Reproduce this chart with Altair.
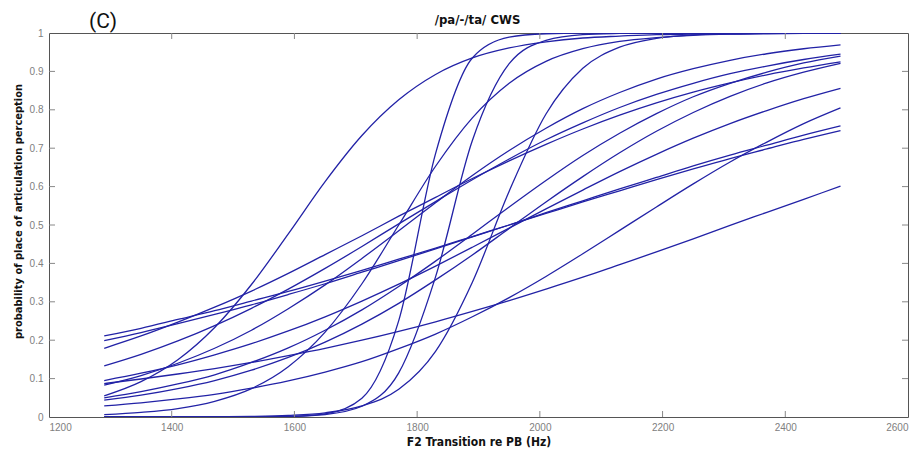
import altair as alt
import pandas as pd

# F2 transition frequencies (Hz) at which each curve is sampled
F2 = [1290, 1350, 1410, 1470, 1530, 1590, 1650, 1710, 1770, 1830, 1890,
      1950, 2010, 2070, 2130, 2190, 2250, 2310, 2370, 2430, 2490]

# probability of place of articulation perception, one list per listener curve
c01 = [0.055, 0.092, 0.149, 0.233, 0.345, 0.477, 0.613, 0.733, 0.826, 0.892, 0.935, 0.961, 0.977, 0.987, 0.992, 0.996, 0.997, 0.998, 0.999, 0.999, 1.0]
c02 = [0.0, 0.0, 0.0, 0.0, 0.0002, 0.0012, 0.008, 0.049, 0.251, 0.686, 0.935, 0.989, 0.998, 1.0, 1.0, 1.0, 1.0, 1.0, 1.0, 1.0, 1.0]
c03 = [0.0, 0.0, 0.0, 0.0, 0.0003, 0.0013, 0.0065, 0.028, 0.115, 0.365, 0.720, 0.920, 0.981, 0.996, 0.999, 1.0, 1.0, 1.0, 1.0, 1.0, 1.0]
c04 = [0.0001, 0.0001, 0.0002, 0.0006, 0.0016, 0.0043, 0.011, 0.029, 0.072, 0.171, 0.351, 0.588, 0.789, 0.908, 0.963, 0.986, 0.995, 0.998, 0.999, 1.0, 1.0]
c05 = [0.006, 0.012, 0.022, 0.041, 0.074, 0.131, 0.221, 0.347, 0.5, 0.653, 0.779, 0.869, 0.926, 0.959, 0.978, 0.988, 0.994, 0.997, 0.998, 0.999, 1.0]
c06 = [0.083, 0.108, 0.140, 0.179, 0.226, 0.282, 0.344, 0.413, 0.485, 0.558, 0.629, 0.694, 0.752, 0.803, 0.845, 0.880, 0.907, 0.929, 0.946, 0.959, 0.969]
c07 = [0.087, 0.099, 0.112, 0.126, 0.142, 0.160, 0.179, 0.200, 0.223, 0.248, 0.275, 0.303, 0.333, 0.364, 0.397, 0.430, 0.464, 0.499, 0.533, 0.567, 0.601]
c08 = [0.095, 0.114, 0.136, 0.162, 0.191, 0.224, 0.261, 0.302, 0.346, 0.393, 0.442, 0.492, 0.542, 0.591, 0.639, 0.684, 0.726, 0.764, 0.798, 0.829, 0.856]
c09 = [0.029, 0.037, 0.047, 0.059, 0.075, 0.094, 0.117, 0.144, 0.178, 0.216, 0.261, 0.311, 0.366, 0.425, 0.486, 0.547, 0.607, 0.664, 0.716, 0.764, 0.805]
c10 = [0.211, 0.231, 0.254, 0.277, 0.302, 0.327, 0.354, 0.382, 0.411, 0.440, 0.470, 0.500, 0.530, 0.560, 0.589, 0.618, 0.646, 0.673, 0.698, 0.723, 0.746]
c11 = [0.199, 0.220, 0.243, 0.267, 0.292, 0.319, 0.347, 0.377, 0.407, 0.438, 0.469, 0.500, 0.532, 0.563, 0.594, 0.624, 0.654, 0.682, 0.708, 0.734, 0.758]
c12 = [0.179, 0.211, 0.247, 0.286, 0.328, 0.374, 0.423, 0.472, 0.523, 0.572, 0.621, 0.667, 0.710, 0.750, 0.786, 0.818, 0.846, 0.870, 0.891, 0.909, 0.925]
c13 = [0.133, 0.163, 0.198, 0.238, 0.283, 0.333, 0.387, 0.444, 0.503, 0.561, 0.618, 0.672, 0.722, 0.766, 0.806, 0.840, 0.869, 0.894, 0.914, 0.931, 0.945]
c14 = [0.050, 0.066, 0.086, 0.110, 0.142, 0.180, 0.226, 0.279, 0.340, 0.406, 0.476, 0.547, 0.616, 0.681, 0.739, 0.790, 0.834, 0.869, 0.898, 0.922, 0.940]
c15 = [0.044, 0.057, 0.074, 0.095, 0.122, 0.155, 0.195, 0.242, 0.296, 0.357, 0.422, 0.491, 0.560, 0.626, 0.688, 0.744, 0.793, 0.835, 0.870, 0.898, 0.921]

CURVES = [c01, c02, c03, c04, c05, c06, c07, c08, c09, c10, c11, c12, c13, c14, c15]

X_TICKS = [1200, 1400, 1600, 1800, 2000, 2200, 2400, 2600]
Y_TICKS = [0, 0.1, 0.2, 0.3, 0.4, 0.5, 0.6, 0.7, 0.8, 0.9, 1]
X_INNER = [1400, 1600, 1800, 2000, 2200, 2400]
Y_INNER = [0.1, 0.2, 0.3, 0.4, 0.5, 0.6, 0.7, 0.8, 0.9]

TITLE = "/pa/-/ta/ CWS"
PANEL = "(C)"
X_TITLE = "F2 Transition re PB (Hz)"
Y_TITLE = "probability of place of articulation perception"

rows = []
for ci, vals in enumerate(CURVES):
    for f, p in zip(F2, vals):
        rows.append({"curve": f"c{ci+1:02d}", "f2": f, "p": p})
df = pd.DataFrame(rows)

W, H = 859, 384
COND = "DejaVu Sans Condensed, sans-serif"
xs = alt.Scale(domain=[1200, 2600], nice=False, zero=False)
ys = alt.Scale(domain=[0, 1], nice=False)

x_axis = alt.Axis(
    title=X_TITLE, values=X_TICKS, format="d", tickSize=0, grid=False, domain=False,
    labelColor="#808080", labelFontSize=10, labelPadding=5, labelFont="Liberation Sans",
    titleFont=COND, titleFontWeight="bold", titleFontSize=12, titleColor="#111111",
    titleX=W / 2, titleY=24, titleAlign="center", titleBaseline="middle")
y_axis = alt.Axis(
    title=Y_TITLE, values=Y_TICKS, format="~g", tickSize=0, grid=False, domain=False,
    labelColor="#808080", labelFontSize=10, labelPadding=6, labelFont="Liberation Sans",
    titleFont=COND, titleFontWeight="bold", titleFontSize=11, titleColor="#111111",
    titleX=-31, titleY=178, titleAngle=270, titleAlign="center", titleBaseline="middle")

lines = alt.Chart(df).mark_line(
    color="#2222a6", strokeWidth=1.3, interpolate="monotone", clip=True
).encode(
    x=alt.X("f2:Q", scale=xs, axis=x_axis),
    y=alt.Y("p:Q", scale=ys, axis=y_axis),
    detail="curve:N",
)

xt = pd.DataFrame({"f2": X_INNER})
yt = pd.DataFrame({"p": Y_INNER})
tick_col = "#888888"
bottom_ticks = alt.Chart(xt).mark_rule(color=tick_col).encode(
    x=alt.X("f2:Q", scale=xs, axis=x_axis), y=alt.value(H), y2=alt.value(H - 6))
top_ticks = alt.Chart(xt).mark_rule(color=tick_col).encode(
    x=alt.X("f2:Q", scale=xs, axis=x_axis), y=alt.value(0), y2=alt.value(6))
left_ticks = alt.Chart(yt).mark_rule(color=tick_col).encode(
    y=alt.Y("p:Q", scale=ys, axis=y_axis), x=alt.value(0), x2=alt.value(6))
right_ticks = alt.Chart(yt).mark_rule(color=tick_col).encode(
    y=alt.Y("p:Q", scale=ys, axis=y_axis), x=alt.value(W), x2=alt.value(W - 6))

title_txt = alt.Chart(pd.DataFrame({"t": [TITLE]})).mark_text(
    font=COND, fontWeight="bold", fontSize=13, color="#111111", align="center", baseline="alphabetic"
).encode(x=alt.value(W / 2 - 1), y=alt.value(-9), text="t:N")

panel_txt = alt.Chart(pd.DataFrame({"t": [PANEL]})).mark_text(
    font="Roboto", fontSize=21, color="#111111", align="center", baseline="alphabetic"
).encode(x=alt.value(54), y=alt.value(-5), text="t:N")

chart = alt.layer(
    lines, bottom_ticks, top_ticks, left_ticks, right_ticks, title_txt, panel_txt
).properties(
    width=W, height=H,
    autosize=alt.AutoSizeParams(type="none"),
    padding={"left": 49, "top": 33, "right": 15, "bottom": 42},
    background="white",
).configure_view(stroke="#555555", strokeWidth=1)

chart.save("out.html", embed_options={"renderer": "svg", "actions": False})
